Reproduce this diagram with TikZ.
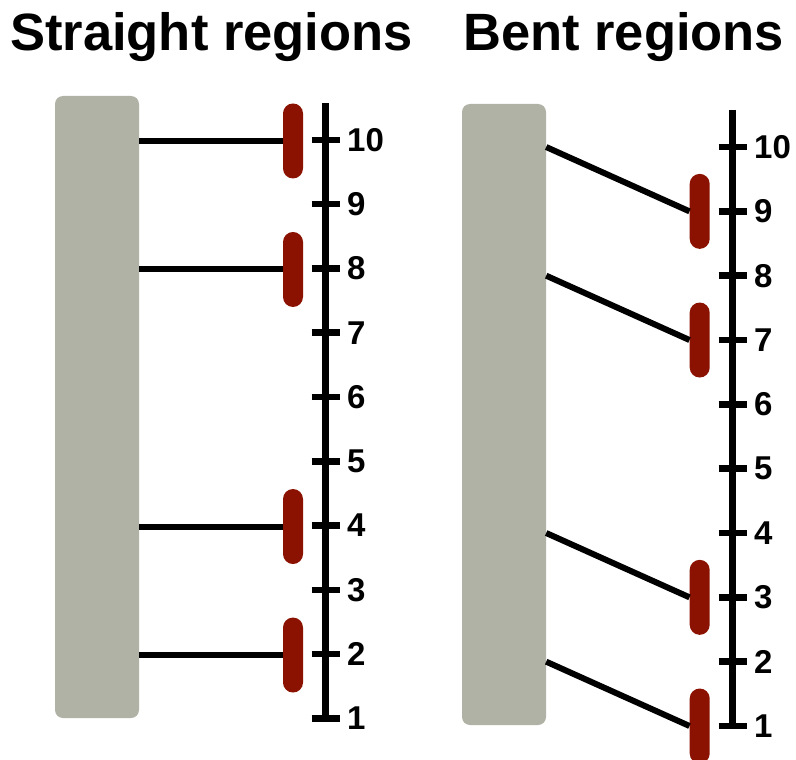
\documentclass[tikz,border=0pt]{standalone}
\usepackage{fontspec}
\setmainfont{Liberation Sans}
\definecolor{barGray}{RGB}{175,178,165}
\definecolor{pillRed}{RGB}{139,18,0}
\begin{document}
\begin{tikzpicture}[x=1pt,y=-1pt,
  graybar/.style={fill=barGray, draw=none, rounded corners=8pt, minimum width=84pt, inner sep=0pt},
  pill/.style={fill=pillRed, draw=none, rounded corners=10pt, minimum width=20pt, minimum height=75pt, inner sep=0pt},
  axisline/.style={line width=6.5pt, black},
  tickline/.style={line width=6.5pt, black},
  connector/.style={line width=6pt, black},
  numlabel/.style={anchor=west, inner sep=0pt, font=\fontsize{33}{33}\selectfont\bfseries},
  title/.style={anchor=base west, inner sep=0pt, font=\fontsize{52.5}{52.5}\selectfont\bfseries}]
\useasboundingbox (0,0) rectangle (796,760);

% titles
\node[title] (t1) at (10,51) {Straight regions};
\node[title] (t2) at (463,51) {Bent regions};

% gray bars
\node[graybar, minimum height=622pt] (Lbar) at (97,407) {};
\node[graybar, minimum height=621pt] (Rbar) at (504,414.5) {};

% left axis
\foreach \n in {1,...,10} {
  \coordinate (Lt\n) at (325.5, {718.3-(\n-1)*64.26});
  \draw[tickline] ([xshift=-14pt]Lt\n) -- ([xshift=14pt]Lt\n);
  \node[numlabel] (Ln\n) at ([xshift=21.5pt]Lt\n) {\n};
}
\coordinate (Ltop) at (325.5,103);
\draw[axisline] (Ltop) -- (Lt1);

% right axis
\foreach \n in {1,...,10} {
  \coordinate (Rt\n) at (732.5, {726-(\n-1)*64.33});
  \draw[tickline] ([xshift=-14pt]Rt\n) -- ([xshift=14pt]Rt\n);
  \node[numlabel] (Rn\n) at ([xshift=21.5pt]Rt\n) {\n};
}
\coordinate (Rtop) at (732.5,110);
\draw[axisline] (Rtop) -- (Rt1);

% left pills and straight connectors
\foreach \n in {10,8,4,2} {
  \node[pill] (Lp\n) at (293, {718.3-(\n-1)*64.26+1}) {};
  \draw[connector] (Lbar.east |- Lp\n.west) -- (Lp\n.west);
}

% right pills and bent connectors
\foreach \n/\m in {9/10,7/8,3/4,1/2} {
  \node[pill] (Rp\n) at (699.7, {726-(\n-1)*64.33}) {};
  \draw[connector] (Rbar.east |- Rt\m) -- (Rp\n.west);
}
\end{tikzpicture}
\end{document}
